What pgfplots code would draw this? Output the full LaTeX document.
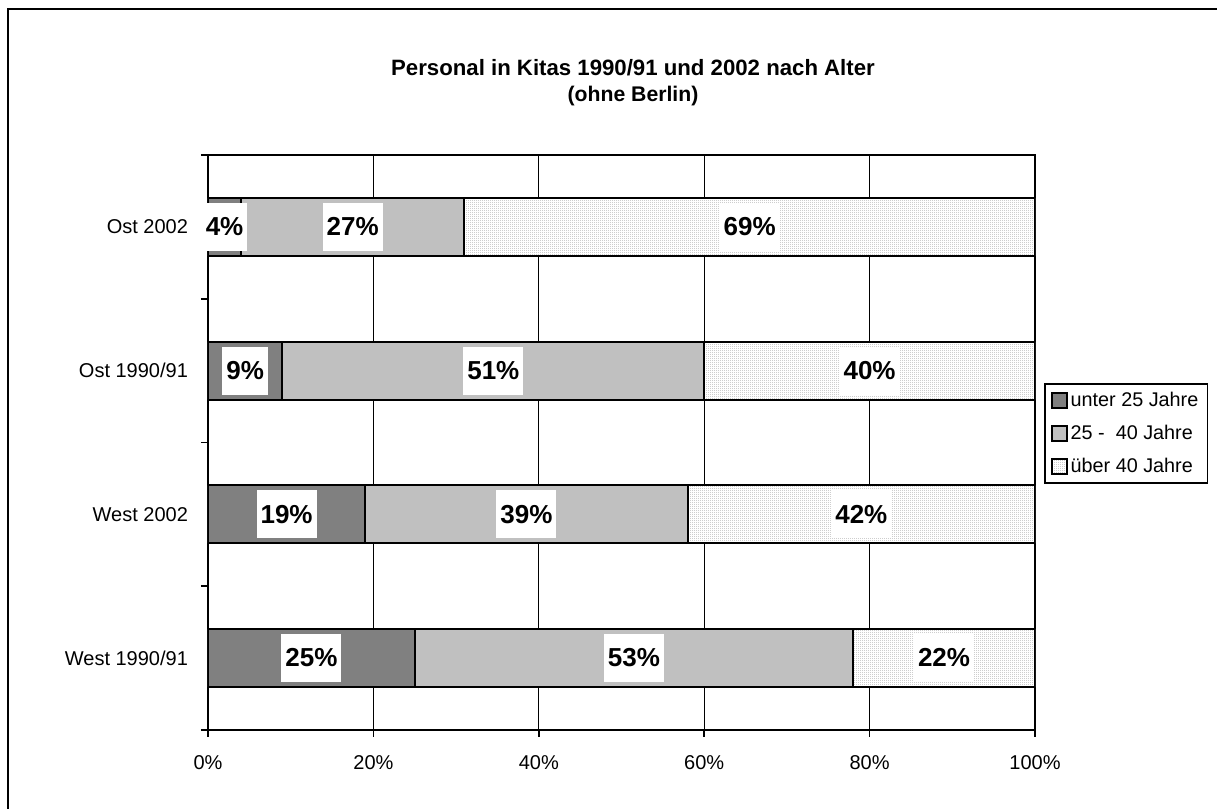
\documentclass[border=0pt]{standalone}
\usepackage{fontspec}
\setmainfont{Liberation Sans}
\usepackage{pgfplots}
\pgfplotsset{compat=1.18}
\usepackage{pgfplotstable}
\usetikzlibrary{patterns}

% fine stipple for the oldest age group
\pgfdeclarepatternformonly{finedots}{\pgfpointorigin}{\pgfqpoint{1pt}{1pt}}{\pgfqpoint{1pt}{1pt}}{%
  \pgfpathrectangle{\pgfpointorigin}{\pgfqpoint{0.5pt}{0.5pt}}\pgfusepath{fill}}

\definecolor{darkseg}{HTML}{808080}
\definecolor{midseg}{HTML}{C0C0C0}

% shares of staff by age group (percent)
\pgfplotstableread{
idx a  b  c
0   25 53 22
1   19 39 42
2   9  51 40
3   4  27 69
}\shares

\begin{document}
\begin{tikzpicture}
\useasboundingbox (0,0) rectangle (608.5pt,404.5pt);
\draw[line width=1pt] (3.75pt,-20pt) rectangle (640pt,399.75pt);

\pgfplotsset{
  panel/.style={scale only axis, width=413.5pt, height=287.5pt,
    at={(104pt,39.5pt)}, anchor=south west,
    xmin=0, xmax=100, ymin=-0.5, ymax=3.5,
    /pgf/number format/assume math mode=true},
  legsq/.style={legend image code/.code={%
    \draw[##1, line width=0.8pt] (0pt,-3.8pt) rectangle (7.6pt,3.8pt);}},
}

% title
\node[anchor=base, font=\fontsize{11.1}{13}\selectfont\bfseries] at (316.5pt,366.6pt)
  {Personal in Kitas 1990/91 und 2002 nach Alter};
\node[anchor=base, font=\fontsize{10.6}{12}\selectfont\bfseries] at (316.5pt,353.6pt)
  {(ohne Berlin)};

\begin{axis}[panel,
  xbar stacked, bar width=29pt,
  axis line style={line width=0.8pt},
  xtick={0,20,...,100},
  xticklabel={\pgfmathprintnumber{\tick}\%},
  xmajorgrids, grid style={black, line width=0.5pt},
  ytick={-0.5,0.5,1.5,2.5,3.5}, yticklabels={},
  xtick pos=bottom, ytick pos=left,
  tick align=outside, major tick length=3.5pt,
  tick style={black, line width=0.8pt},
  extra y ticks={0,1,2,3},
  extra y tick labels={West 1990/91,West 2002,Ost 1990/91,Ost 2002},
  extra y tick style={major tick length=0pt, ytick pos=left,
    yticklabel style={xshift=-6.5pt}},
  tick label style={font=\fontsize{10}{12}\selectfont},
  xticklabel style={yshift=-5.5pt},
  legend style={at={(1.011,0.603)}, anchor=north west, draw=black,
    line width=0.8pt, font=\fontsize{9.9}{12}\selectfont,
    cells={anchor=west}, row sep=7pt,
    inner xsep=3pt, inner ysep=3.5pt,
    nodes={inner xsep=1.5pt, inner ysep=0pt, text height=7.5pt, text depth=2pt}},
]
\addplot[draw=black, line width=1pt, fill=darkseg, legsq]
  table[x=a, y=idx]{\shares};
\addlegendentry{unter 25 Jahre}
\addplot[draw=black, line width=1pt, fill=midseg, legsq]
  table[x=b, y=idx]{\shares};
\addlegendentry{25 -\ \ 40 Jahre}
\addplot[draw=black, line width=1pt, preaction={fill=white},
  pattern=finedots, pattern color=black!45, legsq]
  table[x=c, y=idx]{\shares};
\addlegendentry{über 40 Jahre}
\end{axis}

% value labels centred on each segment
\begin{axis}[panel, hide axis,
  point meta=explicit,
  nodes near coords={\pgfmathprintnumber{\pgfplotspointmeta}\%},
  nodes near coords align=center,
  every node near coord/.append style={fill=white, anchor=center,
    font=\fontsize{13}{15}\selectfont\bfseries,
    text height=9.5pt, text depth=0.8pt, inner xsep=2pt, inner ysep=6.9pt},
]
\addplot[draw=none, mark=none] table[x expr=\thisrow{a}/2, y=idx, meta=a]{\shares};
\addplot[draw=none, mark=none] table[x expr=\thisrow{a}+\thisrow{b}/2, y=idx, meta=b]{\shares};
\addplot[draw=none, mark=none] table[x expr=\thisrow{a}+\thisrow{b}+\thisrow{c}/2, y=idx, meta=c]{\shares};
\end{axis}
\end{tikzpicture}
\end{document}
